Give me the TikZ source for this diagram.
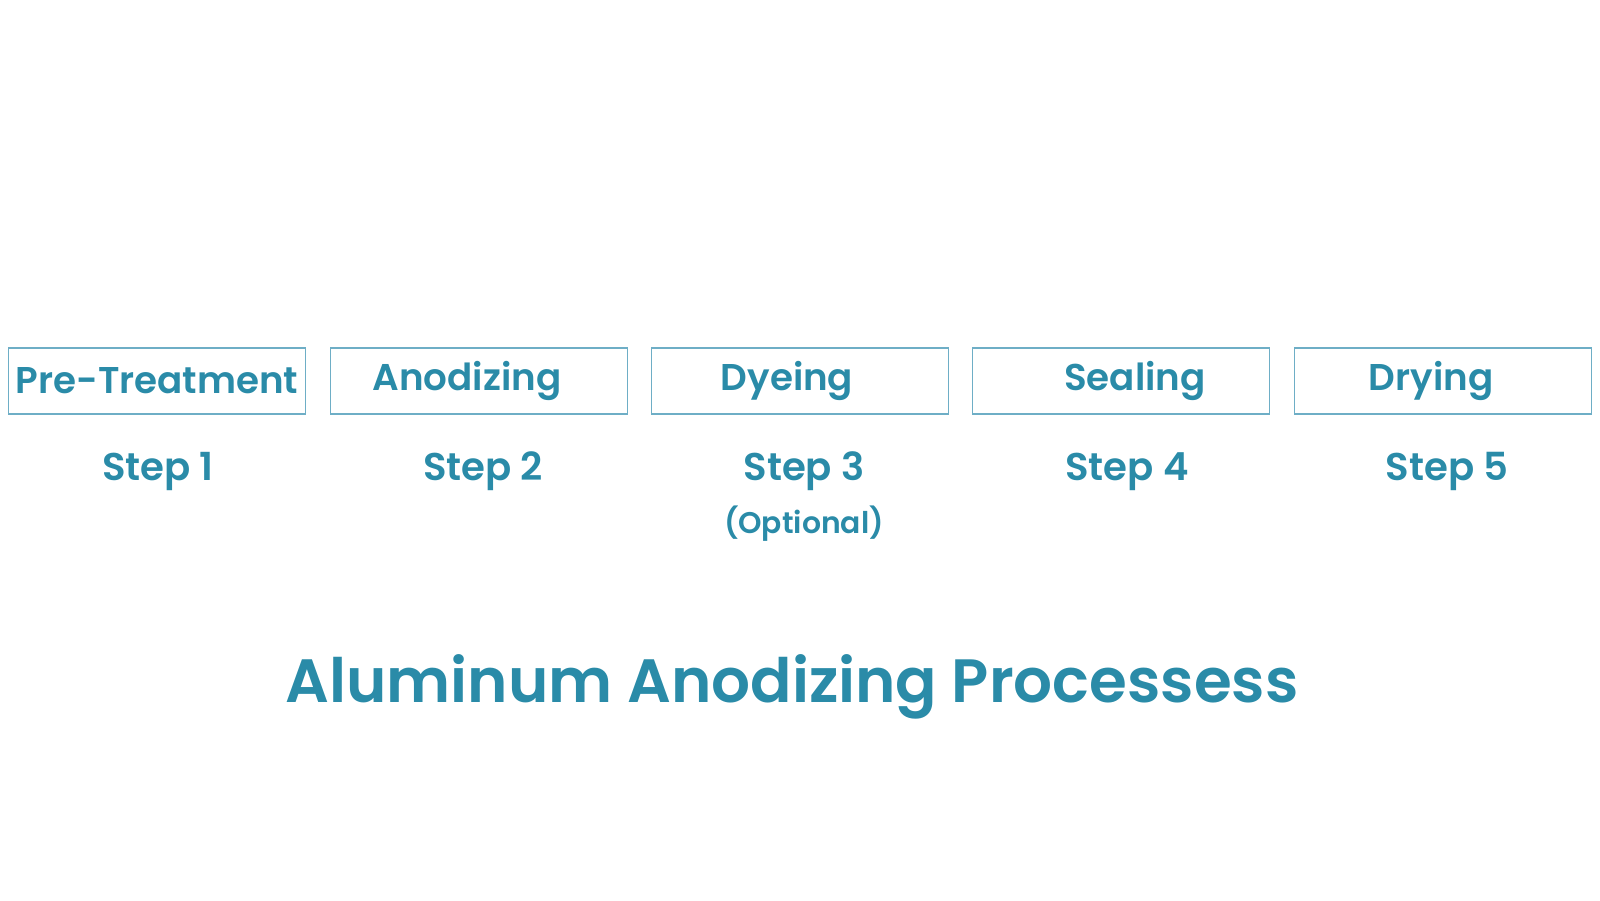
\documentclass[tikz,border=0pt]{standalone}
\usepackage{fontspec}
\setmainfont{Poppins}[BoldFont={Poppins SemiBold}]
\definecolor{anodteal}{RGB}{42,139,168}
\definecolor{boxline}{RGB}{110,174,198}
\begin{document}
\begin{tikzpicture}
% Estilos
\tikzstyle{stepbox} = [rectangle, draw=boxline, line width=0.45pt, minimum width=2.97cm, minimum height=0.66cm, inner sep=0pt, text=anodteal, font=\fontsize{10.6}{13}\selectfont\bfseries]
\tikzstyle{steplabel} = [anchor=base, text=anodteal, font=\fontsize{11}{13}\selectfont\bfseries]
\tikzstyle{note} = [anchor=base, text=anodteal, font=\fontsize{8.5}{10}\selectfont\bfseries]

\useasboundingbox (0,0) rectangle (16,9);

% Process steps
\node[stepbox] (pretreat) at (1.57,5.19) {Pre-Treatment};
\node[stepbox] (anodize) at (4.79,5.19) {Anodizing\hspace*{0.24cm}};
\node[stepbox] (dye) at (8.00,5.19) {Dyeing\hspace*{0.26cm}};
\node[stepbox] (seal) at (11.21,5.19) {\hspace*{0.28cm}Sealing};
\node[stepbox] (dry) at (14.43,5.19) {Drying\hspace*{0.24cm}};

% Step numbers
\node[steplabel] (step1) at (1.58,4.20) {Step 1};
\node[steplabel] (step2) at (4.83,4.20) {Step 2};
\node[steplabel] (step3) at (8.04,4.20) {Step 3};
\node[steplabel] (step4) at (11.27,4.20) {Step 4};
\node[steplabel] (step5) at (14.47,4.20) {Step 5};
\node[note] (optional) at (8.04,3.67) {(Optional)};

% Titulo
\node[anchor=base, text=anodteal, font=\fontsize{17.4}{21}\selectfont\bfseries] (title) at (7.92,1.98) {Aluminum Anodizing Processess};
\end{tikzpicture}
\end{document}
